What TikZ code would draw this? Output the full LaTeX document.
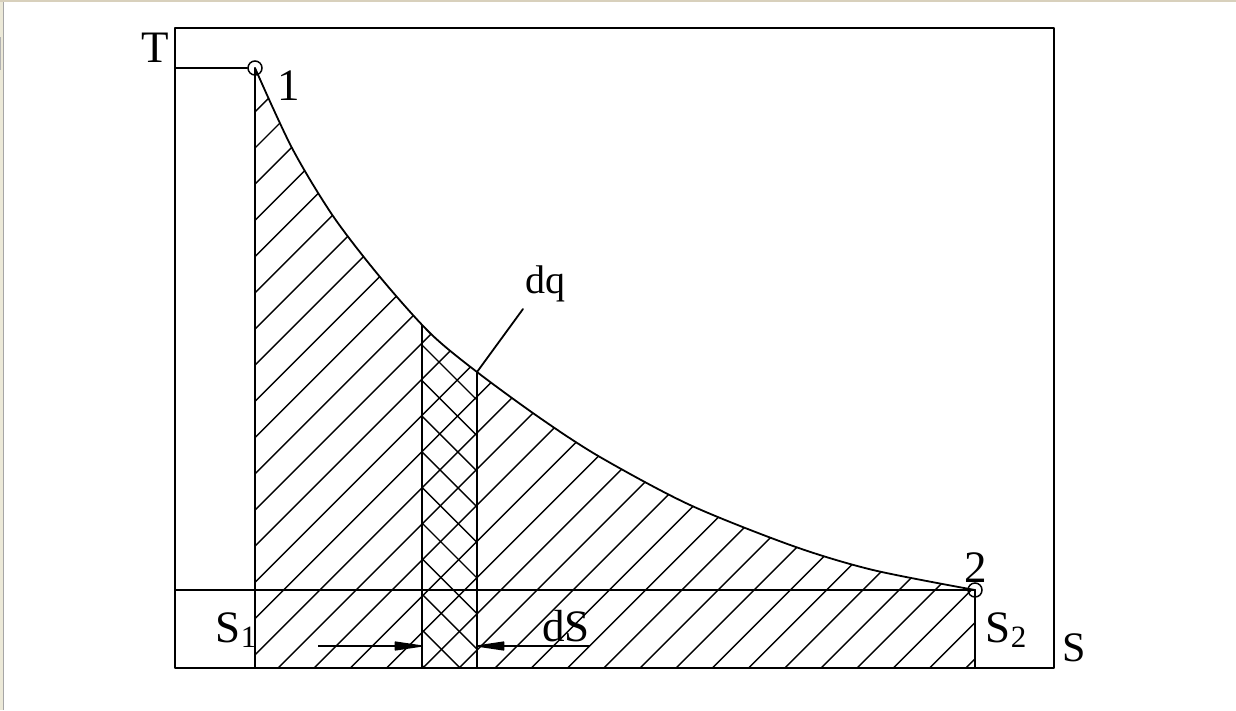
\documentclass[tikz,border=0pt]{standalone}
\usepackage{fontspec}
\setmainfont{Liberation Serif}
\usetikzlibrary{arrows.meta}
\definecolor{frameBeige}{HTML}{ECE9D8}
\definecolor{frameTop}{HTML}{D8D0BC}
\begin{document}
\begin{tikzpicture}[x=1pt,y=-1pt,
  mainline/.style={line width=1.8pt,line cap=round,line join=round},
  hatchline/.style={line width=1.4pt},
  lbl/.style={inner sep=0pt,anchor=base,font=\fontsize{45}{48}\selectfont},
  smalllbl/.style={inner sep=0pt,anchor=base,font=\fontsize{40}{44}\selectfont},
  endpt/.style={circle,draw,line width=1.5pt,minimum size=14pt,inner sep=0pt},
  dimarrow/.style={line width=1.5pt,-{Triangle[length=32pt,width=9pt,round]}}]
\useasboundingbox (0,0) rectangle (1236,710);
\fill[white] (0,0) rectangle (1236,710);
\fill[frameBeige] (0,0) rectangle (3,710);
\fill[frameTop] (0,0) rectangle (1236,2);
\draw[gray!70,line width=1pt] (3.5,2) -- (3.5,710);
\fill[gray!60] (0,37) rectangle (1.2,70);

% hatched area under the curve
\begin{scope}
  \clip (255,668) -- plot[smooth] coordinates {(255,68) (292,148) (333,216) (380,277) (430,333) (477,372) (540,418) (600,457) (690,505) (793,546) (873,570) (975,590)} -- (975,668) -- cycle;
  \foreach \n in {-17,...,19}{
    \pgfmathsetmacro{\k}{946+36.2*\n}
    \draw[hatchline] (\k-700,700) -- (\k,0);
  }
  \begin{scope}
    \clip (422,0) rectangle (477,700);
    \foreach \m in {-1,...,10}{
      \pgfmathsetmacro{\j}{77-35.6*\m}
      \draw[hatchline] (\j,0) -- (\j+700,700);
    }
  \end{scope}
  \draw[mainline] (422,0) -- (422,668);
  \draw[mainline] (477,0) -- (477,668);
\end{scope}

% frame and lines
\draw[mainline] (175,28) rectangle (1054,668);
\node[endpt] (p1) at (255,68) {};
\node[endpt] (p2) at (975,590) {};
\coordinate (tAxis) at (175,68);
\coordinate (sAxis) at (175,590);
\coordinate (b1) at (255,668);
\coordinate (b2) at (975,668);
\draw[mainline] (tAxis) -- (p1.west);
\draw[mainline] (sAxis) -- (p2.center);
\draw[mainline] (p1.center) -- (b1);
\draw[mainline] (p2.center) -- (b2);
\draw[mainline] plot[smooth] coordinates {(255,68) (292,148) (333,216) (380,277) (430,333) (477,372) (540,418) (600,457) (690,505) (793,546) (873,570) (975,590)};

% labels
\node[lbl] (lT) at (155,62) {T};
\node[lbl] (l1) at (289,100) {1};
\node[lbl] (l2) at (976,582) {2};
\node[lbl] (lS1) at (236,642) {S\raisebox{-5pt}{\fontsize{31}{32}\selectfont 1}};
\node[lbl] (lS2) at (1006,642) {S\raisebox{-5pt}{\fontsize{31}{32}\selectfont 2}};
\node[lbl,font=\fontsize{42}{44}\selectfont] (lS) at (1074,661) {S};
\node[lbl] (ldS) at (566,641) {dS};
\node[smalllbl] (ldq) at (545,293) {dq};

% dq leader
\coordinate (lq) at (523,309);
\coordinate (cq) at (477,372);
\draw[mainline] (lq) -- (cq);

% dS arrows
\coordinate (aL) at (318,646);
\coordinate (sL) at (422,646);
\coordinate (aR) at (590,646);
\coordinate (sR) at (477,646);
\draw[dimarrow] (aL) -- (sL);
\draw[dimarrow] (aR) -- (sR);
\end{tikzpicture}
\end{document}
